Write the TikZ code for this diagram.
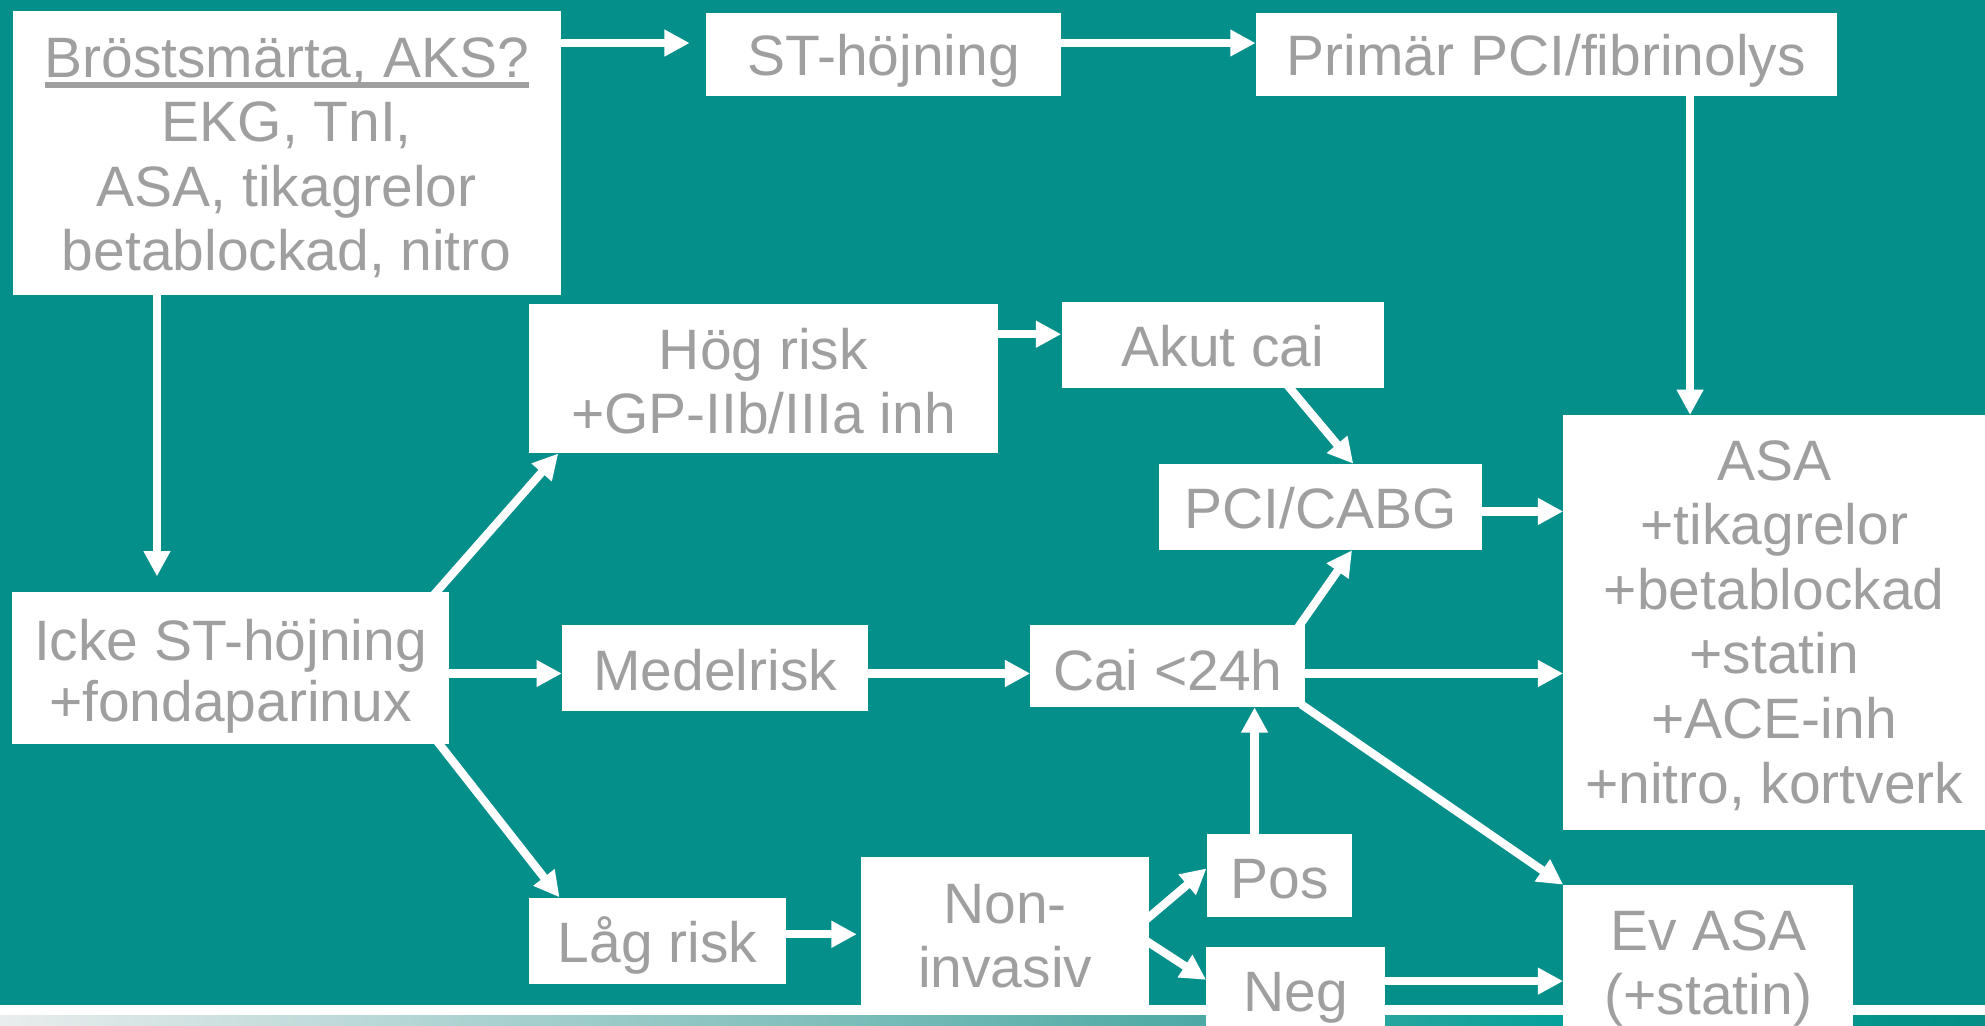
\documentclass[tikz,border=0pt]{standalone}
\usepackage{fontspec}
\setmainfont{Liberation Sans}
\usetikzlibrary{arrows.meta}
\definecolor{bgteal}{HTML}{048F8A}
\definecolor{txtgray}{HTML}{9F9F9F}
\definecolor{gA}{HTML}{E9EDED}
\definecolor{gB}{HTML}{4DA9A4}
\definecolor{gC}{HTML}{00A199}
\definecolor{gD}{HTML}{048E85}
\newcommand{\myul}[1]{\leavevmode\setbox0\hbox{#1}\rlap{\rule[-8.9pt]{\wd0}{4.7pt}}\box0}
\newcommand{\dn}[1]{\raisebox{-#1}[\height][\depth]}
\pgfdeclarelayer{back}
\pgfdeclarelayer{arrows}
\pgfsetlayers{back,arrows,main}
\tikzset{
  box/.style={fill=white, inner sep=0pt, align=center, text=txtgray,
    font=\fontsize{45}{51}\selectfont},
  arr/.style={draw=white, line width=6.5pt, shorten <=-4pt,
    -{Triangle[length=20pt,width=20pt]}},
}
\begin{document}
\begin{tikzpicture}[x=1pt,y=-1pt]
\useasboundingbox (0,0) rectangle (1568,810);
\begin{pgfonlayer}{back}
  \fill[bgteal] (0,0) rectangle (1568,810);
  \fill[white] (0,794) rectangle (1568,802);
  \shade[left color=gA, right color=gB] (0,802) rectangle (950,810);
  \shade[left color=gB, right color=gC] (949.5,802) rectangle (1250,810);
  \shade[left color=gC, right color=gD] (1249.5,802) rectangle (1568,810);
\end{pgfonlayer}

\node[box, minimum width=433pt, minimum height=224pt] (A) at (226.5,121)
  {\dn{3.5pt}{\myul{Bröstsmärta, AKS?}}\\\dn{3.5pt}{EKG, TnI,}\\\dn{3.5pt}{ASA, tikagrelor}\\\dn{3.5pt}{betablockad, nitro}};
\node[box, minimum width=280pt, minimum height=66pt] (B) at (698,43) {\dn{5pt}{ST-höjning}};
\node[box, minimum width=459pt, minimum height=66pt] (C) at (1221.5,43) {\dn{5pt}{Primär PCI/fibrinolys}};
\node[box, minimum width=370pt, minimum height=118pt] (D) at (603,299) {\dn{2pt}{Hög risk}\\\dn{2pt}{+GP-IIb/IIIa inh}};
\node[box, minimum width=255pt, minimum height=68pt] (E) at (966,272.5) {\dn{1pt}{Akut cai}};
\node[box, minimum width=255pt, minimum height=68pt] (F) at (1043,400.5) {\dn{1pt}{PCI/CABG}};
\node[box, minimum width=333pt, minimum height=328pt] (G) at (1401.5,492)
  {\dn{2pt}{ASA}\\\dn{2pt}{+tikagrelor}\\\dn{2pt}{+betablockad}\\\dn{2pt}{+statin}\\\dn{2pt}{+ACE-inh}\\\dn{2pt}{+nitro, kortverk}};
\node[box, font=\fontsize{45}{48}\selectfont, minimum width=345pt, minimum height=120pt] (H) at (182,527.5)
  {\dn{7pt}{Icke ST-höjning}\\\dn{7pt}{+fondaparinux}};
\node[box, minimum width=242pt, minimum height=68pt] (I) at (565,528) {\dn{1pt}{Medelrisk}};
\node[box, minimum width=217pt, minimum height=65pt] (J) at (922.5,526) {\dn{3pt}{Cai <24h}};
\node[box, minimum width=115pt, minimum height=65pt] (K) at (1010.7,691.5) {\dn{3pt}{Pos}};
\node[box, minimum width=203pt, minimum height=68pt] (L) at (519.5,743) {\dn{4pt}{Låg risk}};
\node[box, minimum width=228pt, minimum height=125pt] (M) at (794,739.5) {Non-\\invasiv};
\node[box, minimum width=141pt, minimum height=81pt] (N) at (1023.5,788.5) {Neg};
\node[box, minimum width=229pt, minimum height=132pt] (O) at (1349.5,765) {Ev ASA\\(+statin)};

\begin{pgfonlayer}{arrows}
  \draw[arr, shorten >=13pt] (A.east |- 0,34) -- (B.west |- 0,34);
  \draw[arr] (B.east |- 0,34) -- (C.west |- 0,34);
  \draw[arr] (C.south -| 1335,0) -- (G.north -| 1335,0);
  \draw[arr, shorten >=12pt] (A.south -| 124,0) -- (H.north -| 124,0);
  \draw[arr] (H.north -| 345,0) -- (D.south -| 441,0);
  \draw[arr] (H.east |- 0,532) -- (I.west |- 0,532);
  \draw[arr] (H.south -| 347,0) -- (L.north -| 442,0);
  \draw[arr] (D.east |- 0,264) -- (E.west |- 0,264);
  \draw[arr] (E.south -| 1019,0) -- (F.north -| 1069,0);
  \draw[arr] (F.east |- 0,404) -- (G.west |- 0,404);
  \draw[arr] (I.east |- 0,532) -- (J.west |- 0,532);
  \draw[arr] (J.north -| 1027,0) -- (F.south -| 1068,0);
  \draw[arr] (J.east |- 0,532) -- (G.west |- 0,532);
  \draw[arr] (J.south east) -- (O.north west);
  \draw[arr, shorten >=3pt] (L.east |- 0,738) -- (M.west |- 0,738);
  \draw[arr] (M.east |- 0,724) -- (K.west |- 0,686);
  \draw[arr] (M.east |- 0,745) -- (N.west |- 0,774);
  \draw[arr] (K.north -| 991,0) -- (J.south -| 991,0);
  \draw[arr] (N.east |- 0,775) -- (O.west |- 0,775);
\end{pgfonlayer}
\end{tikzpicture}
\end{document}
